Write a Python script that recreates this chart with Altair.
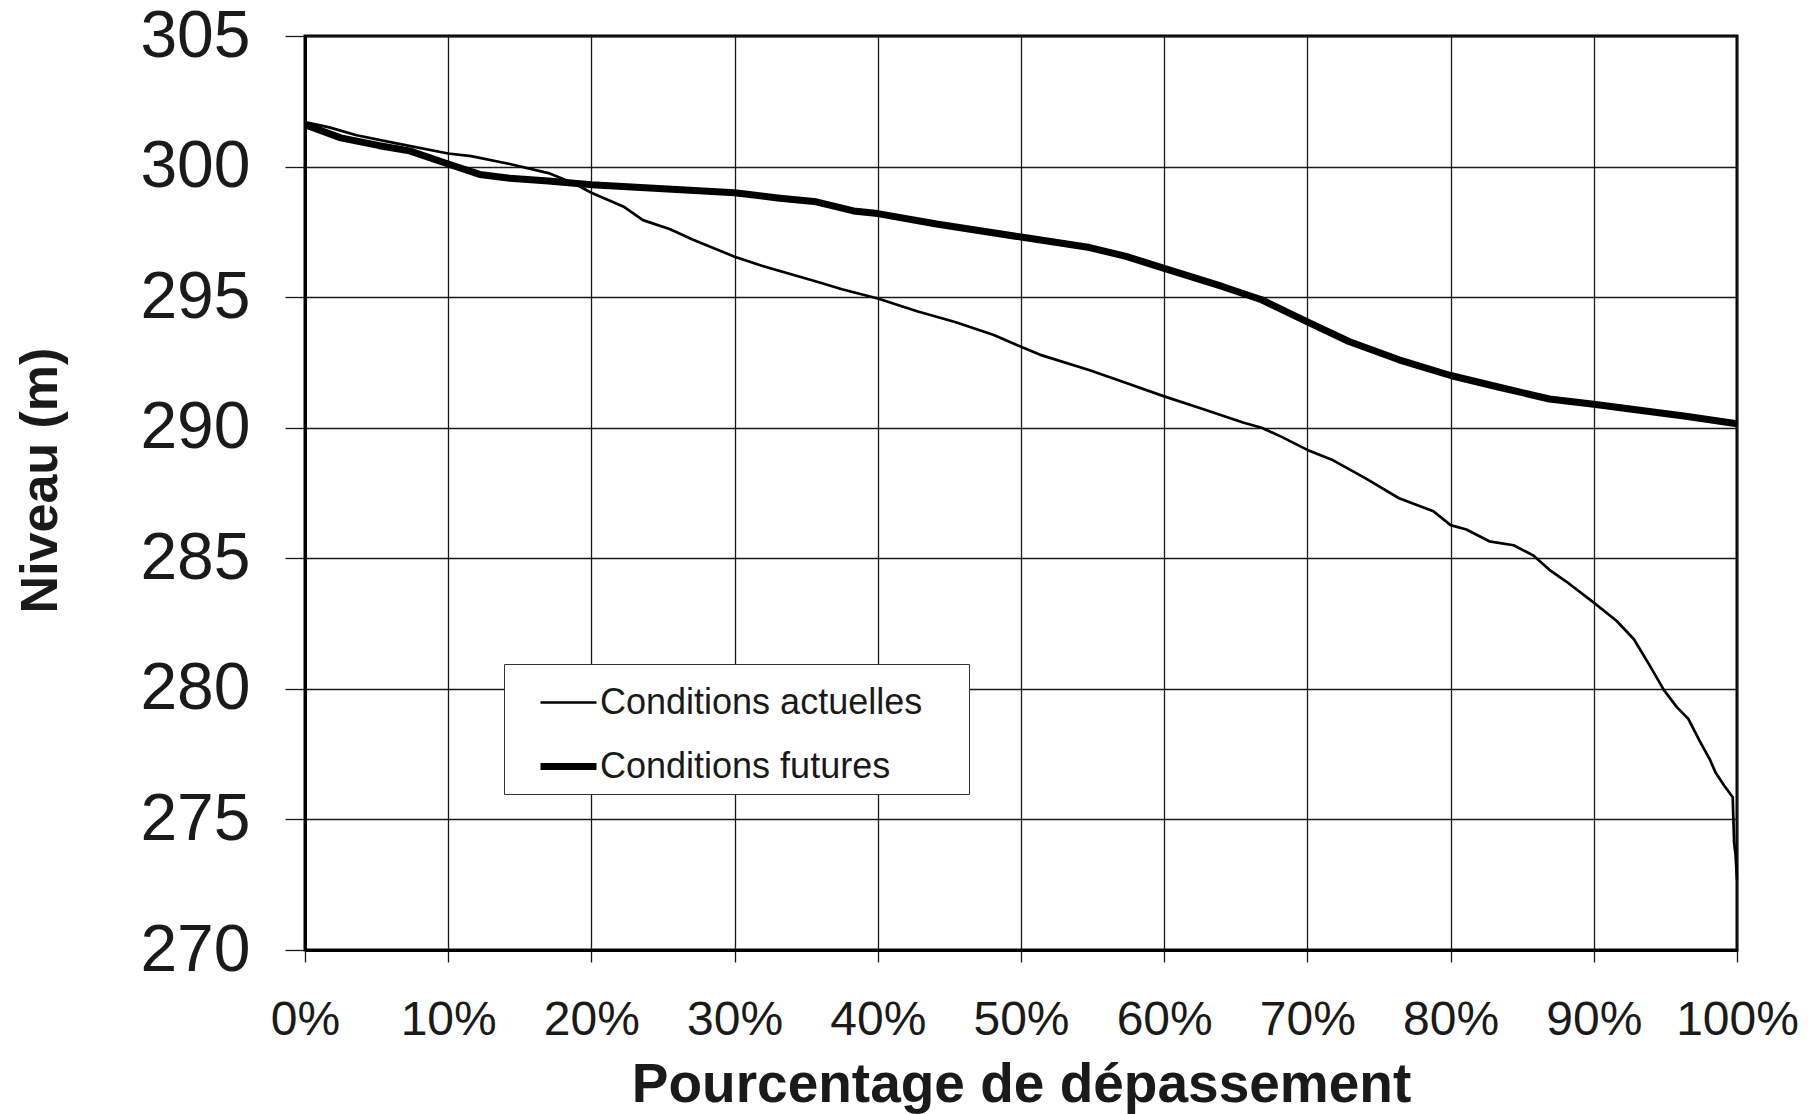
import altair as alt
import pandas as pd

# --- data ---
series_names = ["Conditions actuelles", "Conditions futures"]

pct_actuelles = [0, 1.7, 3.6, 6.3, 10, 11.6, 14.3, 17, 18.8, 20, 22.3, 23.6, 25.5, 27.1,
                 30, 31.9, 35.7, 37.5, 40, 42.8, 45.4, 48.1, 50, 51.3, 54.8, 57.4, 60,
                 62.8, 65.5, 66.8, 68.2, 70, 71.8, 74.1, 76.4, 78.8, 80, 81.1, 82.7, 84.4,
                 85.8, 86.9, 88.1, 90, 91.6, 92.8, 93.9, 94.9, 95.8, 96.6, 97.4, 98.1,
                 98.5, 99.1, 99.7, 99.8, 99.9, 100]
niveau_actuelles = [301.7, 301.5, 301.2, 300.9, 300.5, 300.4, 300.1, 299.75, 299.35, 299.0,
                    298.45, 297.95, 297.6, 297.2, 296.55, 296.2, 295.6, 295.3, 294.95,
                    294.45, 294.05, 293.55, 293.1, 292.8, 292.2, 291.7, 291.2, 290.7,
                    290.2, 290.0, 289.65, 289.15, 288.75, 288.05, 287.3, 286.8, 286.27,
                    286.1, 285.65, 285.5, 285.1, 284.56, 284.1, 283.3, 282.6, 281.9,
                    280.9, 279.95, 279.3, 278.85, 278.0, 277.3, 276.8, 276.3, 275.85,
                    274.1, 273.65, 272.7]

pct_futures = [0, 2.5, 5.2, 7.3, 10, 12.2, 14.3, 17, 20, 25, 30, 33, 35.7, 38.3, 40, 44.1,
               50, 54.8, 57.4, 60, 64.1, 66.8, 70, 72.9, 76.4, 80, 83.4, 86.9, 90, 92.8,
               96.3, 100]
niveau_futures = [301.6, 301.1, 300.8, 300.6, 300.1, 299.7, 299.55, 299.45, 299.3, 299.15,
                  299.0, 298.8, 298.65, 298.3, 298.2, 297.8, 297.3, 296.9, 296.55, 296.1,
                  295.4, 294.9, 294.05, 293.3, 292.6, 292.0, 291.55, 291.1, 290.9, 290.7,
                  290.45, 290.15]

x_ticks = [0, 10, 20, 30, 40, 50, 60, 70, 80, 90, 100]
y_ticks = [270, 275, 280, 285, 290, 295, 300, 305]

df = pd.concat([
    pd.DataFrame({"pct": pct_actuelles, "niveau": niveau_actuelles, "serie": series_names[0]}),
    pd.DataFrame({"pct": pct_futures, "niveau": niveau_futures, "serie": series_names[1]}),
], ignore_index=True)

FONT = "Liberation Sans"
INK = "#1a1a1a"

chart = alt.Chart(df).mark_line(color="black", strokeJoin="round").encode(
    x=alt.X(
        "pct:Q",
        scale=alt.Scale(domain=[0, 100], nice=False, zero=False),
        axis=alt.Axis(
            values=x_ticks,
            labelExpr="datum.value + '%'",
            title="Pourcentage de dépassement",
            titleFontSize=55,
            titleFontWeight="bold",
            titleFont=FONT,
            titleColor=INK,
            titleY=151,
            titleBaseline="alphabetic",
            labelFontSize=48,
            labelFont=FONT,
            labelColor=INK,
            labelPadding=34,
            tickSize=12,
            tickColor=INK,
            tickWidth=1.3,
            grid=True,
            gridColor=INK,
            gridWidth=1.3,
            domainColor="black",
            domainWidth=3,
            labelFlush=False,
        ),
    ),
    y=alt.Y(
        "niveau:Q",
        scale=alt.Scale(domain=[270, 305], nice=False, zero=False),
        axis=alt.Axis(
            values=y_ticks,
            title="Niveau (m)",
            titleFontSize=52,
            titleFontWeight="bold",
            titleFont=FONT,
            titleColor=INK,
            titleAngle=-90,
            titleX=-265,
            titleY=444,
            titleAlign="center",
            titleBaseline="middle",
            labelFontSize=66,
            labelFont=FONT,
            labelColor=INK,
            labelPadding=35,
            tickSize=20,
            tickColor=INK,
            tickWidth=1.3,
            grid=True,
            gridColor=INK,
            gridWidth=1.3,
            domainColor="black",
            domainWidth=3,
            labelFlush=False,
        ),
    ),
    strokeWidth=alt.StrokeWidth(
        "serie:O",
        scale=alt.Scale(domain=series_names, range=[2.7, 7]),
        legend=alt.Legend(
            title="\u00a0",
            titleOrient="right",
            titleFontSize=1,
            titlePadding=38,
            orient="none",
            legendX=199,
            legendY=628,
            padding=9,
            symbolOffset=24,
            rowPadding=14,
            symbolType="stroke",
            symbolSize=3136,
            symbolStrokeColor="black",
            labelFontSize=36,
            labelFont=FONT,
            labelColor=INK,
            labelOffset=0,
            labelLimit=600,
            fillColor="white",
            strokeColor="#333333",
        ),
    ),
).properties(
    width=1432,
    height=914,
    autosize=alt.AutoSizeParams(type="none"),
    padding={"left": 297, "top": 28, "right": 73, "bottom": 164},
    background="white",
).configure_view(
    stroke="black",
    strokeWidth=3,
)

chart.save("out.html", embed_options={"renderer": "svg", "actions": False})
